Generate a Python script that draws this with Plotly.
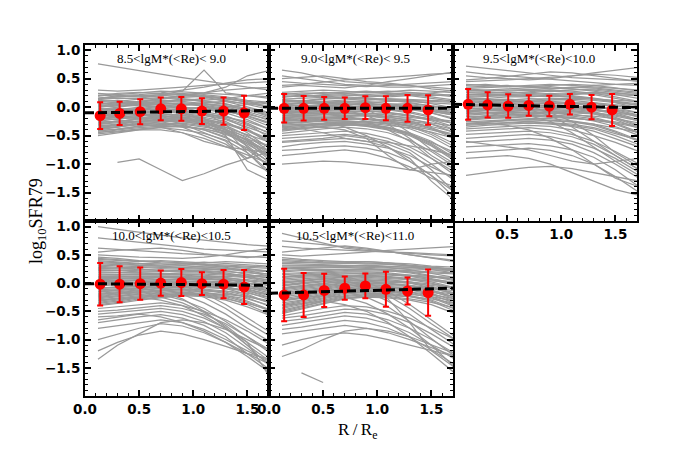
import plotly.graph_objects as go

# ---------------- data ----------------
R_GRID = [0.12, 0.3, 0.5, 0.7, 0.9, 1.1, 1.3, 1.5, 1.72]   # radii of individual profiles
R_BIN = [0.14, 0.32, 0.51, 0.70, 0.89, 1.08, 1.28, 1.47]    # radii of binned medians

PANEL_LABELS = ["8.5&lt;lgM*(&lt;Re)&lt; 9.0", "9.0&lt;lgM*(&lt;Re)&lt; 9.5",
                "9.5&lt;lgM*(&lt;Re)&lt;10.0", "10.0&lt;lgM*(&lt;Re)&lt;10.5",
                "10.5&lt;lgM*(&lt;Re)&lt;11.0"]

# individual galaxy profiles, log10 SFR79 x 100
P1_LINES = [
    [24, 22, 25, 28, 27, 25, 22, 20, 18], [20, 24, 26, 24, 22, 25, 30, 33, 35],
    [18, 15, 16, 20, 22, 18, 15, 10, 5], [15, 18, 20, 18, 15, 12, 15, 20, 25],
    [12, 10, 14, 17, 20, 22, 18, 12, 8], [10, 12, 8, 10, 14, 10, 5, -2, -10],
    [8, 5, 10, 12, 10, 6, 2, -5, -15], [5, 8, 6, 8, 12, 15, 12, 5, -5],
    [3, 0, 4, 8, 6, 3, -2, -10, -25], [0, 4, 2, 5, 8, 5, 0, -8, -20],
    [-2, -5, 0, 3, 5, 2, -5, -18, -35], [-5, -2, -4, 0, 3, 6, 2, -5, -12],
    [-7, -4, -6, -2, 0, -3, -8, -15, -28], [-10, -8, -3, -5, -2, 0, -4, -12, -22],
    [-12, -10, -8, -6, -4, -8, -15, -30, -55], [-14, -15, -10, -8, -10, -12, -18, -25, -40],
    [-16, -12, -14, -10, -6, -10, -20, -38, -65], [-18, -16, -12, -14, -12, -15, -22, -35, -50],
    [-20, -22, -16, -12, -15, -18, -25, -45, -75], [-22, -18, -20, -18, -14, -20, -30, -42, -60],
    [-25, -20, -18, -20, -22, -25, -35, -55, -85], [-27, -25, -22, -16, -20, -24, -28, -40, -58],
    [-30, -28, -25, -22, -18, -26, -38, -60, -90], [-33, -30, -24, -25, -26, -30, -40, -52, -70],
    [-36, -32, -30, -26, -24, -32, -45, -68, -100], [-38, -35, -28, -30, -30, -35, -42, -58, -80],
    [-42, -38, -34, -30, -32, -40, -52, -75, -105], [-45, -40, -36, -34, -35, -38, -48, -62, -78],
    [-47, -44, -40, -36, -40, -46, -58, -80, -115], [-35, -30, -25, -20, -10, -5, 0, 5, 10],
    [-5, 0, 8, 15, 20, 18, 10, 0, -10], [30, 28, 30, 32, 35, 38, 40, 42, 45],
    [15, 20, 22, 25, 30, 35, 42, 48, 50], [76, 70, 64, 58, 52, 46, 40, 35, 30],
    [15, 18, 20, 22, 28, 65, 25, 20, 15], [5, 8, 10, 15, 20, 25, 35, 55, 65],
    [None, -97, -91, -110, -129, -117, -102, -90, -78], [-10, -8, -5, -5, -10, -20, -40, -80, -120],
    [0, 2, 5, 5, 0, -10, -30, -70, -110], [-20, -18, -15, -15, -20, -30, -50, -110, -130],
    [-40, -35, -30, -35, -45, -60, -70, -75, -80], [-50, -45, -40, -40, -45, -55, -70, -85, -100],
    [-30, -25, -20, -25, -35, -50, -65, -90, -60], [-15, -10, -12, -20, -30, -45, -60, -95, -115],
    [10, 8, 5, 0, -10, -25, -45, -65, -90],
    [21, 19, 18, 22, 24, 20, 16, 8, -2], [13, 16, 15, 14, 17, 19, 16, 10, 0],
    [7, 3, 6, 10, 13, 11, 6, -4, -18], [1, 6, 9, 7, 4, 8, 10, 6, 2],
    [-3, -6, -2, 1, -1, -4, -10, -22, -40], [-9, -6, -9, -7, -4, -1, -6, -16, -30],
    [-13, -14, -11, -9, -7, -11, -17, -28, -48], [-17, -19, -14, -16, -18, -14, -20, -32, -45],
    [-21, -17, -19, -15, -17, -21, -28, -40, -65], [-24, -26, -20, -21, -19, -23, -32, -50, -80],
    [-28, -24, -26, -23, -24, -28, -36, -48, -62], [-31, -33, -27, -26, -22, -27, -40, -58, -88],
    [-37, -34, -31, -29, -28, -33, -43, -62, -95], [-41, -39, -33, -32, -34, -38, -46, -56, -70],
    [-44, -42, -38, -35, -33, -40, -54, -72, -98],
]
P2_LINES = [
    [26, 28, 30, 28, 25, 27, 30, 28, 25], [22, 25, 24, 26, 28, 25, 22, 20, 22],
    [20, 18, 22, 24, 20, 18, 20, 25, 30], [17, 20, 18, 20, 22, 24, 20, 15, 10],
    [14, 15, 17, 15, 18, 20, 22, 18, 12], [12, 10, 14, 16, 14, 12, 10, 8, 5],
    [10, 12, 10, 12, 15, 12, 8, 2, -5], [8, 6, 9, 10, 8, 10, 12, 10, 8],
    [5, 8, 6, 8, 10, 6, 2, -4, -12], [3, 2, 5, 6, 4, 5, 6, 2, -2],
    [0, 3, 2, 4, 6, 3, 0, -6, -15], [-2, -1, 0, 2, 0, 2, 4, 0, -5],
    [-4, -2, -3, 0, 2, 0, -4, -10, -20], [-6, -5, -2, -2, -4, -2, 0, -4, -10],
    [-8, -6, -6, -4, -2, -5, -10, -18, -30], [-10, -9, -8, -6, -8, -6, -4, -8, -14],
    [-12, -10, -10, -8, -6, -10, -14, -22, -35], [-14, -13, -11, -10, -12, -12, -16, -20, -25],
    [-16, -15, -14, -12, -10, -14, -20, -30, -45], [-18, -16, -16, -14, -16, -18, -22, -28, -34],
    [-20, -19, -17, -16, -15, -20, -26, -38, -55], [-22, -21, -20, -18, -20, -22, -25, -30, -40],
    [-25, -23, -21, -20, -22, -26, -32, -45, -65], [-27, -25, -24, -22, -20, -24, -30, -38, -48],
    [-30, -27, -25, -24, -26, -30, -38, -52, -75], [-32, -30, -28, -26, -28, -32, -36, -44, -55],
    [-35, -32, -30, -28, -30, -35, -45, -60, -85], [-38, -34, -30, -30, -34, -40, -50, -68, -95],
    [-42, -38, -34, -32, -30, -36, -48, -62, -80], [-46, -42, -38, -35, -38, -45, -58, -78, -105],
    [45, 42, 40, 38, 36, 38, 40, 42, 45], [55, 50, 45, 40, 38, 35, 35, 38, 40],
    [38, 40, 44, 48, 50, 52, 55, 58, 60], [65, 60, 52, 45, 42, 40, 38, 35, 32],
    [35, 38, 36, 34, 38, 45, 50, 55, 62], [50, 52, 55, 50, 45, 42, 38, 32, 28],
    [-50, -48, -45, -42, -46, -55, -70, -90, -115], [-55, -52, -50, -48, -52, -60, -75, -100, -130],
    [-60, -58, -55, -50, -55, -65, -80, -110, -150], [-62, -60, -58, -55, -60, -62, -68, -75, -85],
    [-70, -65, -62, -60, -65, -72, -85, -105, -125], [-76, -74, -70, -68, -72, -80, -95, -120, -160],
    [-85, -82, -78, -75, -80, -90, -105, -125, -140], [-100, -98, -95, -96, -100, -104, -110, -115, -120],
    [-15, -12, -10, -15, -25, -40, -60, -90, -120], [-5, 0, 2, -5, -15, -30, -55, -85, -110],
    [5, 8, 10, 5, -5, -20, -45, -75, -100], [-25, -20, -25, -35, -50, -70, -95, -120, -150],
    [-35, -38, -45, -55, -60, -70, -90, -130, -165], [-40, -38, -35, -40, -55, -85, -110, -100, -95],
    [24, 22, 26, 24, 26, 28, 26, 22, 18], [18, 21, 20, 22, 19, 22, 25, 24, 20],
    [13, 11, 15, 18, 16, 14, 12, 6, -2], [9, 11, 7, 9, 12, 15, 14, 12, 10],
    [4, 6, 8, 5, 7, 4, -2, -10, -22], [1, -2, 3, 5, 3, 1, 2, -2, -8],
    [-3, -4, -1, -3, -5, -4, -8, -16, -30], [-7, -8, -5, -2, -1, -3, -2, -6, -12],
    [-11, -8, -12, -10, -7, -9, -14, -24, -40], [-15, -16, -13, -11, -14, -16, -18, -22, -28],
    [-19, -17, -19, -17, -13, -17, -24, -36, -52], [-23, -24, -22, -19, -21, -24, -28, -34, -44],
    [-26, -28, -23, -25, -27, -28, -34, -48, -70], [-29, -31, -29, -27, -25, -28, -33, -40, -50],
    [-34, -33, -31, -30, -32, -37, -46, -64, -90], [-40, -36, -33, -31, -33, -38, -48, -66, -92],
]
P3_LINES = [
    [40, 38, 36, 38, 40, 38, 35, 32, 30], [35, 36, 38, 35, 32, 34, 38, 40, 42],
    [32, 30, 32, 34, 36, 32, 28, 22, 15], [28, 30, 28, 30, 28, 30, 32, 28, 24],
    [25, 24, 26, 25, 28, 26, 22, 16, 8], [22, 22, 20, 22, 24, 22, 24, 22, 20],
    [19, 20, 22, 20, 18, 20, 16, 10, 2], [16, 15, 18, 18, 20, 17, 14, 12, 10],
    [13, 14, 12, 15, 14, 12, 8, 0, -10], [10, 11, 12, 10, 12, 14, 12, 8, 4],
    [7, 8, 8, 10, 8, 6, 2, -6, -18], [4, 6, 5, 6, 8, 8, 6, 2, -4],
    [2, 2, 4, 4, 2, 0, -4, -12, -25], [0, 0, 1, 3, 4, 2, 0, -4, -10],
    [-3, -2, -1, 0, -2, -4, -8, -18, -32], [-6, -4, -4, -2, 0, -2, -6, -10, -16],
    [-8, -7, -6, -4, -6, -8, -12, -22, -38], [-11, -10, -8, -6, -8, -6, -10, -14, -22],
    [-14, -12, -10, -9, -10, -12, -18, -28, -44], [-17, -15, -13, -12, -10, -14, -16, -20, -28],
    [-20, -18, -16, -14, -16, -18, -24, -34, -50], [-23, -20, -18, -16, -18, -20, -22, -26, -34],
    [-26, -24, -21, -20, -20, -24, -30, -42, -58], [-29, -26, -24, -22, -24, -26, -30, -36, -44],
    [-32, -30, -28, -26, -28, -32, -38, -50, -66], [-35, -32, -30, -28, -30, -34, -42, -55, -70],
    [-38, -36, -33, -32, -34, -40, -50, -62, -78],
    [55, 52, 50, 48, 50, 55, 58, 56, 52], [62, 58, 55, 52, 48, 45, 42, 40, 38],
    [48, 50, 54, 58, 62, 60, 55, 50, 45], [72, 68, 64, 60, 56, 52, 50, 48, 46],
    [45, 46, 48, 50, 52, 55, 60, 65, 70],
    [-42, -40, -38, -36, -40, -48, -60, -78, -100], [-48, -46, -44, -42, -45, -52, -65, -85, -110],
    [-55, -52, -50, -48, -52, -60, -72, -90, -115], [-62, -60, -58, -55, -58, -65, -80, -100, -125],
    [-70, -68, -66, -64, -68, -75, -88, -110, -140], [-80, -78, -75, -72, -76, -85, -100, -122, -150],
    [-120, -115, -110, -106, -104, -108, -115, -122, -130], [-90, -88, -85, -90, -100, -115, -130, -145, -155],
    [-20, -15, -10, -15, -25, -45, -70, -95, -120], [-10, -5, 0, -5, -15, -35, -60, -85, -110],
    [-30, -28, -32, -40, -55, -75, -100, -125, -140], [0, 5, 8, 2, -10, -25, -50, -80, -105],
    [-60, -65, -70, -75, -85, -95, -100, -95, -90],
    [38, 40, 37, 36, 38, 40, 38, 34, 28], [33, 34, 35, 37, 34, 32, 30, 26, 20],
    [30, 28, 30, 31, 32, 35, 34, 30, 26], [26, 27, 24, 27, 30, 28, 24, 18, 10],
    [21, 23, 22, 24, 22, 24, 26, 24, 22], [17, 18, 20, 19, 21, 19, 15, 8, -2],
    [12, 13, 14, 12, 15, 16, 14, 10, 6], [8, 10, 9, 11, 10, 8, 4, -4, -14],
    [5, 4, 7, 8, 6, 6, 8, 4, 0], [1, 3, 2, 1, 3, 1, -3, -10, -22],
    [-2, -4, -2, -1, 1, -1, -4, -8, -14], [-7, -5, -7, -5, -4, -6, -10, -20, -34],
    [-12, -11, -9, -11, -9, -10, -12, -16, -24], [-16, -17, -14, -13, -14, -16, -20, -30, -46],
    [-21, -19, -19, -17, -15, -19, -23, -28, -36], [-25, -27, -23, -22, -23, -26, -32, -44, -60],
    [-30, -28, -27, -25, -27, -30, -36, -46, -58],
]
P4_LINES = [
    [46, 44, 40, 38, 36, 35, 33, 30, 28], [42, 40, 38, 40, 38, 36, 38, 36, 34],
    [38, 36, 34, 32, 34, 32, 28, 22, 15], [34, 33, 32, 30, 28, 30, 30, 28, 26],
    [30, 28, 28, 26, 28, 26, 22, 16, 8], [26, 25, 24, 24, 22, 24, 24, 22, 20],
    [22, 22, 20, 20, 22, 20, 16, 10, 2], [18, 18, 18, 16, 18, 18, 16, 14, 12],
    [14, 14, 14, 14, 14, 12, 8, 0, -10], [10, 10, 12, 12, 10, 12, 12, 10, 6],
    [6, 7, 8, 8, 10, 8, 4, -4, -15], [2, 4, 5, 6, 6, 6, 6, 4, 0],
    [-2, 0, 2, 4, 4, 2, -2, -10, -22], [-5, -3, -1, 2, 2, 2, 0, -4, -10],
    [-9, -7, -4, 0, 0, -2, -6, -16, -30], [-12, -10, -8, -4, -2, -2, -4, -8, -14],
    [-16, -13, -10, -7, -5, -6, -10, -20, -36], [-20, -17, -14, -10, -8, -6, -8, -12, -20],
    [-24, -20, -17, -13, -10, -12, -16, -26, -42], [-28, -24, -20, -16, -14, -14, -14, -18, -26],
    [-32, -28, -24, -20, -18, -20, -24, -34, -50], [-36, -32, -26, -22, -20, -18, -20, -24, -32],
    [-40, -36, -30, -26, -22, -24, -30, -42, -58],
    [100, 95, 90, 85, 80, 76, 72, 68, 65], [80, 76, 72, 68, 64, 60, 58, 56, 55],
    [62, 60, 58, 55, 52, 50, 48, 46, 45], [55, 58, 60, 62, 58, 52, 48, 45, 50],
    [50, 48, 46, 45, 44, 46, 50, 56, 62],
    [-45, -42, -38, -35, -40, -50, -65, -85, -110], [-50, -48, -44, -40, -45, -55, -72, -95, -120],
    [-55, -52, -48, -45, -50, -62, -80, -105, -135], [-60, -58, -54, -50, -56, -68, -88, -115, -145],
    [-70, -65, -60, -56, -62, -75, -95, -125, -155], [-80, -75, -70, -65, -70, -82, -100, -120, -140],
    [-100, -90, -80, -72, -76, -88, -105, -130, -160], [-135, -110, -90, -70, -65, -70, -82, -100, -120],
    [-120, -105, -92, -85, -90, -100, -112, -125, -135], [-10, -8, -5, -10, -20, -35, -55, -80, -105],
    [0, 2, 5, 0, -10, -25, -45, -70, -95], [10, 12, 10, 5, -5, -18, -38, -62, -88],
    [-20, -18, -15, -20, -30, -45, -68, -95, -125], [-30, -28, -25, -30, -40, -58, -80, -110, -150],
    [-15, -12, -10, -15, -28, -50, -78, -110, -140], [-25, -22, -20, -25, -35, -52, -75, -105, -170],
    [-65, -60, -55, -60, -70, -85, -105, -125, -145],
    [44, 42, 39, 36, 35, 37, 35, 32, 30], [40, 37, 35, 34, 32, 33, 30, 26, 20],
    [36, 35, 32, 30, 31, 28, 26, 24, 22], [32, 30, 29, 28, 26, 27, 26, 20, 12],
    [28, 27, 25, 22, 24, 22, 20, 18, 16], [24, 23, 22, 21, 20, 21, 18, 12, 4],
    [20, 19, 19, 18, 16, 16, 14, 12, 10], [16, 15, 16, 15, 16, 14, 10, 4, -6],
    [12, 12, 10, 11, 12, 10, 9, 6, 2], [8, 8, 9, 10, 8, 9, 6, 0, -10],
    [4, 5, 6, 5, 7, 4, 2, 0, -4], [0, 2, 0, 3, 1, 0, -3, -8, -18],
    [-4, -2, -2, 0, -1, -3, -2, -6, -12], [-8, -8, -6, -3, -3, -4, -8, -14, -26],
    [-14, -12, -9, -6, -5, -8, -10, -14, -22], [-18, -15, -12, -9, -7, -10, -14, -22, -36],
    [-22, -19, -16, -12, -11, -13, -18, -24, -34], [-26, -22, -18, -14, -12, -16, -22, -32, -48],
    [-30, -26, -22, -18, -16, -18, -22, -28, -40], [-34, -30, -25, -21, -19, -21, -26, -38, -56],
    [-38, -34, -28, -24, -21, -22, -28, -36, -48],
]
P5_LINES = [
    [45, 42, 40, 38, 38, 36, 32, 28, 25], [40, 38, 36, 36, 38, 36, 34, 30, 28],
    [35, 34, 33, 32, 30, 30, 28, 24, 18], [30, 30, 30, 30, 32, 30, 28, 26, 24],
    [25, 26, 26, 28, 26, 24, 20, 14, 6], [20, 22, 22, 24, 24, 24, 22, 20, 18],
    [15, 16, 18, 20, 20, 18, 14, 8, 0], [10, 12, 14, 16, 18, 16, 14, 12, 10],
    [5, 8, 10, 12, 14, 12, 8, 2, -8], [0, 3, 6, 10, 12, 10, 8, 6, 2],
    [-5, -2, 2, 6, 8, 6, 2, -6, -18], [-10, -6, -2, 3, 5, 4, 2, -2, -8],
    [-15, -10, -6, 0, 2, 0, -4, -12, -25], [-20, -15, -10, -4, -2, -2, -4, -8, -14],
    [-25, -20, -14, -8, -5, -6, -10, -18, -32], [-30, -25, -18, -12, -8, -8, -10, -14, -20],
    [-35, -30, -22, -15, -12, -12, -16, -24, -40], [-40, -34, -26, -18, -15, -14, -16, -20, -28],
    [-45, -38, -30, -22, -18, -18, -22, -30, -46], [-50, -42, -33, -26, -22, -22, -24, -28, -36],
    [-54, -46, -36, -28, -25, -26, -30, -38, -54],
    [88, 80, 70, 62, 58, 55, 52, 50, 48], [75, 72, 68, 64, 60, 56, 50, 45, 40],
    [65, 62, 60, 58, 56, 55, 54, 52, 50], [55, 58, 62, 66, 62, 56, 50, 44, 38],
    [50, 48, 50, 52, 55, 58, 60, 62, 65],
    [-58, -52, -45, -40, -42, -50, -62, -80, -100], [-62, -58, -52, -46, -48, -56, -70, -90, -115],
    [-68, -64, -58, -52, -55, -65, -80, -100, -125], [-75, -70, -64, -58, -62, -72, -88, -110, -135],
    [-82, -78, -72, -66, -70, -80, -96, -118, -145], [-90, -85, -80, -75, -80, -88, -100, -115, -130],
    [-130, -118, -100, -85, -80, -85, -95, -110, -125], [-110, -100, -92, -88, -92, -100, -110, -120, -130],
    [None, -159, -176, None, None, None, None, None, None], [-10, -6, -2, -5, -15, -32, -55, -82, -110],
    [0, 4, 8, 4, -6, -22, -45, -72, -100], [-20, -16, -12, -15, -25, -42, -68, -98, -130],
    [-30, -26, -22, -25, -36, -55, -80, -110, -150], [10, 14, 16, 12, 2, -15, -38, -65, -95],
    [-40, -36, -32, -38, -50, -70, -95, -125, -160], [-5, 0, 4, 0, -10, -28, -70, -120, -150],
    [42, 40, 38, 37, 36, 34, 30, 26, 22], [37, 36, 35, 34, 34, 33, 31, 28, 24],
    [32, 32, 31, 31, 30, 28, 24, 18, 10], [27, 28, 28, 29, 28, 27, 26, 24, 22],
    [22, 24, 24, 25, 25, 22, 18, 12, 4], [17, 19, 20, 22, 22, 21, 20, 18, 16],
    [12, 14, 16, 18, 17, 16, 12, 6, -4], [7, 10, 12, 14, 15, 14, 12, 10, 8],
    [2, 5, 8, 11, 13, 11, 6, 0, -10], [-3, 1, 4, 8, 10, 8, 6, 4, 0],
    [-8, -4, 0, 4, 6, 4, 0, -8, -20], [-12, -8, -4, 1, 3, 2, 0, -4, -10],
    [-18, -12, -8, -2, 0, -1, -6, -14, -28], [-22, -17, -12, -6, -3, -4, -6, -10, -18],
    [-28, -22, -16, -10, -7, -7, -12, -20, -36], [-32, -27, -20, -14, -10, -10, -12, -16, -24],
    [-38, -32, -24, -17, -14, -15, -18, -26, -42], [-43, -36, -28, -20, -16, -16, -20, -24, -32],
    [-48, -40, -32, -24, -20, -20, -24, -32, -50], [-52, -44, -35, -27, -24, -24, -28, -34, -44],
]
LINES = [P1_LINES, P2_LINES, P3_LINES, P4_LINES, P5_LINES]

# binned medians and scatter
MED = [
    [-0.15, -0.11, -0.08, -0.03, -0.03, -0.07, -0.07, -0.10],
    [-0.02, -0.02, -0.02, -0.02, -0.01, -0.02, -0.02, -0.05],
    [0.05, 0.04, 0.02, 0.03, 0.02, 0.05, 0.00, -0.05],
    [-0.02, -0.02, -0.01, 0.00, 0.01, -0.01, -0.02, -0.07],
    [-0.21, -0.21, -0.13, -0.09, -0.05, -0.11, -0.14, -0.17],
]
ERR = [
    [0.235, 0.205, 0.22, 0.20, 0.21, 0.225, 0.24, 0.30],
    [0.25, 0.215, 0.20, 0.19, 0.20, 0.21, 0.235, 0.26],
    [0.27, 0.22, 0.205, 0.18, 0.18, 0.18, 0.215, 0.28],
    [0.375, 0.32, 0.285, 0.225, 0.24, 0.20, 0.25, 0.30],
    [0.465, 0.39, 0.295, 0.205, 0.22, 0.31, 0.24, 0.41],
]
# linear fit (value at R=0 and at R=1.7)
FIT_X = [0.0, 1.7]
FIT = [[-0.10, -0.06], [-0.02, -0.02], [0.05, -0.01], [-0.01, -0.04], [-0.18, -0.09]]

# ---------------- layout ----------------
W, H = 681, 454
OFF = 8  # page body margin in the browser
XD = [(85, 269), (269, 453), (453, 637), (85, 269), (269, 453)]
YD = [(44.5, 221), (44.5, 221), (44.5, 221), (221, 396), (221, 396)]


def px(x):
    return (x - OFF) / W


def py(y):
    return 1 - (y - OFF) / H


fig = go.Figure()
for i in range(5):
    ax = "" if i == 0 else str(i + 1)
    xs, ys = [], []
    for ln in LINES[i]:
        for r, v in zip(R_GRID, ln):
            xs.append(r)
            ys.append(None if v is None else v / 100.0)
        xs.append(None)
        ys.append(None)
    fig.add_trace(go.Scatter(x=xs, y=ys, mode="lines", xaxis="x" + ax, yaxis="y" + ax,
                             line=dict(color="#999999", width=1.25), hoverinfo="skip",
                             showlegend=False))
    fig.add_trace(go.Scatter(x=R_BIN, y=MED[i], mode="markers", xaxis="x" + ax, yaxis="y" + ax,
                             marker=dict(color="#ff0000", size=11),
                             error_y=dict(type="data", array=ERR[i], color="#ff0000",
                                          thickness=2, width=3),
                             showlegend=False))
    fig.add_trace(go.Scatter(x=FIT_X, y=FIT[i], mode="lines", xaxis="x" + ax, yaxis="y" + ax,
                             line=dict(color="black", width=3, dash="9px,4px"),
                             showlegend=False))

tickfont = dict(family="DejaVu Sans", size=13.5, color="black", weight="bold")
xminor = [round(0.1 * k, 1) for k in range(1, 17) if k % 5]
yminor = [round(-2.0 + 0.1 * k, 1) for k in range(1, 31) if k % 5]
common = dict(showline=True, linecolor="black", linewidth=2, mirror="ticks",
              ticks="inside", ticklen=6, tickwidth=1.5, tickcolor="black",
              showgrid=False, zeroline=False, tickfont=tickfont, tickformat=".1f",
              fixedrange=True, automargin=False)

for i in range(5):
    ax = "" if i == 0 else str(i + 1)
    x0, x1 = XD[i]
    y0, y1 = YD[i]
    if i in (3, 4):
        xt, xshow = [0.0, 0.5, 1.0, 1.5], True
    elif i == 2:
        xt, xshow = [0.5, 1.0, 1.5], True
    else:
        xt, xshow = [0.5, 1.0, 1.5], False
    fig.layout["xaxis" + ax] = dict(
        common, domain=[px(x0), px(x1)], range=[0, 1.7], anchor="y" + ax,
        tickmode="array", tickvals=xt, showticklabels=xshow,
        minor=dict(ticks="inside", ticklen=3, tickcolor="black", tickwidth=1,
                   tickmode="array", tickvals=xminor))
    fig.layout["yaxis" + ax] = dict(
        common, domain=[py(y1), py(y0)], range=[-2.0, 1.1], anchor="x" + ax,
        tickmode="array", tickvals=[-1.5, -1.0, -0.5, 0.0, 0.5, 1.0],
        showticklabels=(i in (0, 3)),
        minor=dict(ticks="inside", ticklen=3, tickcolor="black", tickwidth=1,
                   tickmode="array", tickvals=yminor))
    fig.add_annotation(text=PANEL_LABELS[i], xref="paper", yref="paper",
                       x=px((x0 + x1) / 2 - 6), y=py(y0 + 14.5),
                       xanchor="center", yanchor="middle",
                       showarrow=False, font=dict(family="Liberation Serif", size=13, color="black"))

fig.add_annotation(text="log<sub>10</sub>SFR79", xref="paper", yref="paper", x=px(37), y=py(221),
                   xanchor="center", yanchor="middle",
                   textangle=-90, showarrow=False,
                   font=dict(family="Liberation Serif", size=18, color="black"))
fig.add_annotation(text="R\u2009/\u2009R<sub>e</sub>", xref="paper", yref="paper", x=px(358), y=py(431),
                   xanchor="center", yanchor="middle",
                   showarrow=False, font=dict(family="Liberation Serif", size=17, color="black"))

fig.update_layout(width=W, height=H, margin=dict(l=0, r=0, t=0, b=0),
                  paper_bgcolor="white", plot_bgcolor="white", showlegend=False)
fig.write_html("out.html")
